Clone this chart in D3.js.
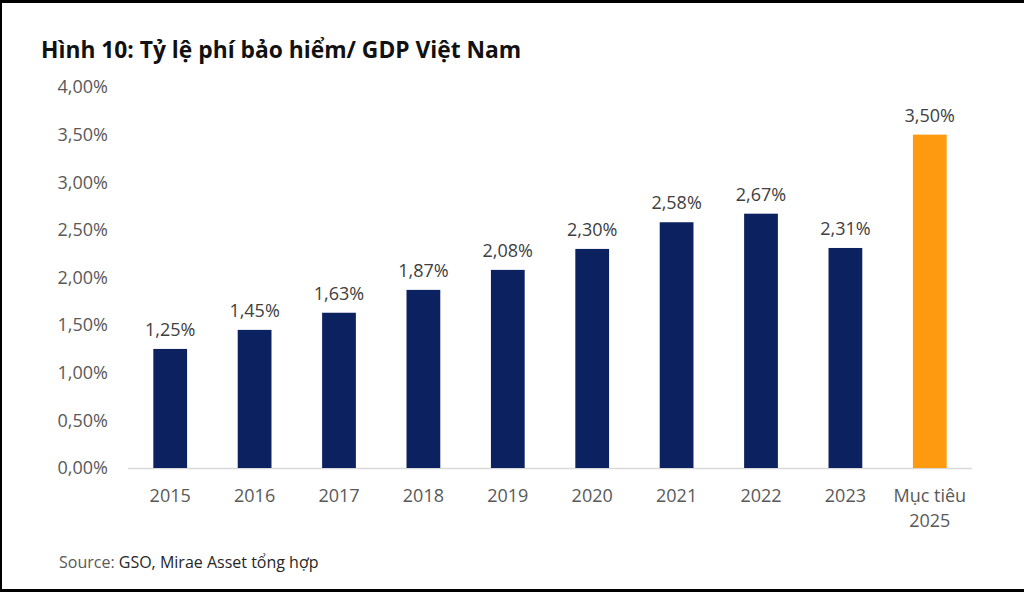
<!DOCTYPE html>
<html>
<head>
<meta charset="utf-8">
<script src="https://cdn.jsdelivr.net/npm/d3@7"></script>
<style>
  body { margin: 0; background: #fff; }
  svg { display: block; font-family: "Open Sans", sans-serif; }
</style>
</head>
<body>
<svg id="chart" width="1024" height="592"></svg>
<script>
// chart data
const categories = ["2015", "2016", "2017", "2018", "2019", "2020", "2021", "2022", "2023", "Mục tiêu\n2025"];
const values = [1.25, 1.45, 1.63, 1.87, 2.08, 2.30, 2.58, 2.67, 2.31, 3.50];
const yTicks = [0, 0.5, 1, 1.5, 2, 2.5, 3, 3.5, 4];

const navy = '#0b2160', orange = '#fe9a10', grey = '#595959';
const fmt = v => v.toFixed(2).replace('.', ',') + '%';

const svg = d3.select('#chart');
const W = 1024, H = 592;

// frame lines from the screenshot
svg.append('rect').attr('x', 0).attr('y', 0).attr('width', W).attr('height', 3).attr('fill', '#000');
svg.append('rect').attr('x', 0).attr('y', 0).attr('width', 2).attr('height', H).attr('fill', '#000');
svg.append('rect').attr('x', 0).attr('y', 589).attr('width', W).attr('height', 3).attr('fill', '#000');

svg.append('text')
  .attr('x', 41).attr('y', 58)
  .attr('font-size', 22.8).attr('font-weight', 700).attr('fill', '#111')
  .text('Hình 10: Tỷ lệ phí bảo hiểm/ GDP Việt Nam');

const x = d3.scaleBand().domain(categories).range([128, 972]).paddingInner(0.6).paddingOuter(0.3);
const y = d3.scaleLinear().domain([0, 4]).range([468, 87]);

// y axis labels only
const yAxis = svg.append('g')
  .attr('transform', 'translate(108,0)')
  .call(d3.axisLeft(y).tickValues(yTicks).tickFormat(fmt).tickSize(0).tickPadding(0));
yAxis.select('.domain').remove();
yAxis.selectAll('text').attr('font-size', 18).attr('fill', grey).attr('font-family', '"Open Sans", sans-serif');

// baseline
svg.append('line')
  .attr('x1', 128).attr('x2', 972).attr('y1', y(0) + 0.5).attr('y2', y(0) + 0.5)
  .attr('stroke', '#d9d9d9').attr('stroke-width', 1.5);

svg.append('g').selectAll('rect')
  .data(values)
  .join('rect')
  .attr('x', (d, i) => x(categories[i]))
  .attr('width', x.bandwidth())
  .attr('y', d => y(d))
  .attr('height', d => y(0) - y(d))
  .attr('fill', (d, i) => i === values.length - 1 ? orange : navy);

svg.append('g').selectAll('text')
  .data(values)
  .join('text')
  .attr('x', (d, i) => x(categories[i]) + x.bandwidth() / 2)
  .attr('y', d => y(d) - 13)
  .attr('text-anchor', 'middle')
  .attr('font-size', 18).attr('fill', '#404040')
  .text(fmt);

// x labels, split on newline
const xl = svg.append('g').selectAll('text')
  .data(categories)
  .join('text')
  .attr('x', d => x(d) + x.bandwidth() / 2)
  .attr('y', 502)
  .attr('text-anchor', 'middle')
  .attr('font-size', 18).attr('fill', grey);
xl.each(function(d) {
  const t = d3.select(this);
  d.split('\n').forEach((line, k) => {
    t.append('tspan').attr('x', t.attr('x')).attr('dy', k ? 25 : 0).text(line);
  });
});

const src = svg.append('text').attr('x', 59).attr('y', 568).attr('font-size', 16);
src.append('tspan').attr('fill', grey).text('Source: ');
src.append('tspan').attr('fill', '#262626').text('GSO, Mirae Asset tổng hợp');
</script>
</body>
</html>
